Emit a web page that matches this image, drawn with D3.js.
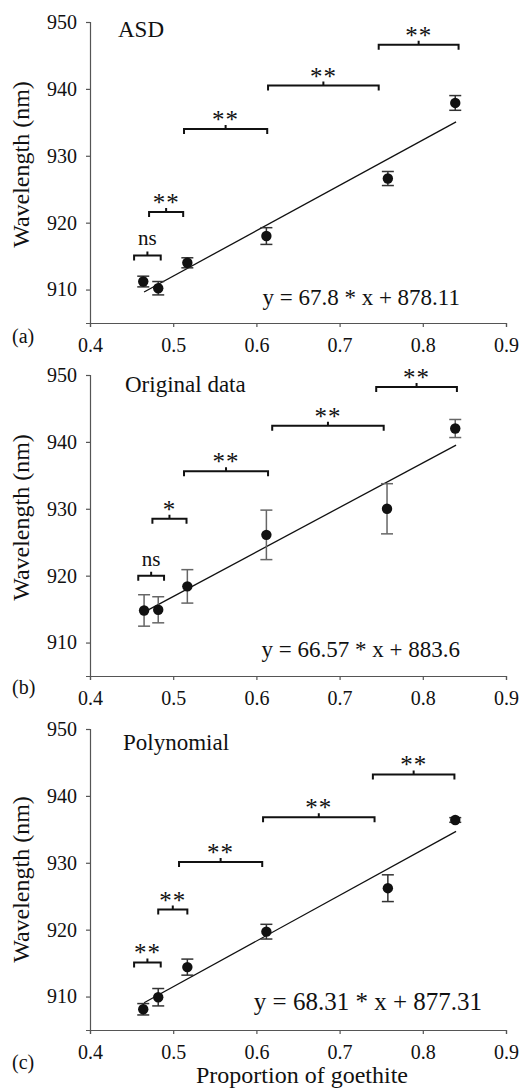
<!DOCTYPE html>
<html>
<head>
<meta charset="utf-8">
<script src="https://cdn.jsdelivr.net/npm/d3@7"></script>
<style>
  body { margin: 0; background: #fff; }
  svg text { font-family: "Liberation Serif", "Times New Roman", serif; fill: #111; }
  .axis path, .axis line { stroke: #555; stroke-width: 1.2; }
  .axis text { font-size: 20px; }
</style>
</head>
<body>
<div id="chart"></div>
<script>

// tick labels
const xTicks = [0.4, 0.5, 0.6, 0.7, 0.8, 0.9]
const yTicks = [910, 920, 930, 940, 950]

// panels
const panelLetters = ["(a)", "(b)", "(c)"]
const panelTitles = ["ASD", "Original data", "Polynomial"]
const equations = ["y = 67.8 * x + 878.11", "y = 66.57 * x + 883.6", "y = 68.31 * x + 877.31"]
const slopes = [67.8, 66.57, 68.31]
const intercepts = [878.11, 883.6, 877.31]
const fitRange = [0.465, 0.84]

// points: proportion of goethite, wavelength (nm), error
const goethite = [
    [0.464, 0.482, 0.517, 0.612, 0.758, 0.839],
    [0.465, 0.482, 0.517, 0.612, 0.757, 0.839],
    [0.464, 0.482, 0.517, 0.612, 0.758, 0.839]
]
const wavelength = [
    [911.2, 910.2, 914.0, 918.0, 926.6, 937.9],
    [914.8, 914.9, 918.4, 926.1, 930.0, 942.0],
    [908.1, 909.9, 914.4, 919.7, 926.2, 936.4]
]
const errors = [
    [0.8, 1.0, 0.75, 1.25, 1.05, 1.1],
    [2.35, 1.95, 2.5, 3.7, 3.75, 1.35],
    [0.85, 1.3, 1.2, 1.1, 2.0, 0.35]
]

// significance brackets
const bracketStart = [
    [0.453, 0.471, 0.513, 0.614, 0.747],
    [0.458, 0.475, 0.513, 0.619, 0.744],
    [0.453, 0.482, 0.507, 0.608, 0.740]
]
const bracketEnd = [
    [0.485, 0.512, 0.613, 0.747, 0.843],
    [0.489, 0.516, 0.614, 0.753, 0.841],
    [0.485, 0.517, 0.607, 0.742, 0.838]
]
const bracketLevel = [
    [915.1, 921.6, 934.0, 940.5, 946.6],
    [920.0, 928.5, 935.6, 942.4, 948.2],
    [915.1, 923.0, 930.1, 936.8, 943.2]
]
const bracketLabels = [
    ["ns", "**", "**", "**", "**"],
    ["ns", "*", "**", "**", "**"],
    ["**", "**", "**", "**", "**"]
]

// layout
const W = 525, H = 1089
const left = 90, plotW = 416, plotH = 301
const panelTops = [22, 375, 729]
const titleX = [118, 125, 123], titleDy = [15, 17, 21]
const eqX = [460, 460, 482], eqDy = [-18, -19, -20], eqSize = [23, 23, 25]
const letterDy = [20, 18, 39]
const barColors = ["#333", "#666", "#333"]

let svg = d3.select("#chart").append("svg")
    .attr("width", W)
    .attr("height", H)

let x = d3.scaleLinear().domain([0.4, 0.9]).range([0, plotW])
let y = d3.scaleLinear().domain([905, 950]).range([plotH, 0])

panelTops.forEach((top, p) => {
    let g = svg.append("g").attr("transform", `translate(${left}, ${top})`)

    // axes
    g.append("g")
        .attr("class", "axis")
        .attr("transform", `translate(0, ${plotH})`)
        .call(d3.axisBottom(x).tickValues(xTicks).tickFormat(d3.format(".1f")).tickSizeOuter(0).tickSize(4).tickPadding(11))

    g.append("g")
        .attr("class", "axis")
        .call(d3.axisLeft(y).tickValues(yTicks).tickSizeOuter(0).tickSize(4).tickPadding(9))

    // axis title
    g.append("text")
        .attr("transform", `translate(${-61}, ${plotH / 2 - (p < 2 ? 8 : 0)}) rotate(-90)`)
        .attr("text-anchor", "middle")
        .style("font-size", "24px")
        .text("Wavelength (nm)")

    // panel letter
    g.append("text")
        .attr("x", 12 - left)
        .attr("y", plotH + letterDy[p])
        .style("font-size", "20px")
        .text(panelLetters[p])

    // panel title
    g.append("text")
        .attr("x", titleX[p] - left)
        .attr("y", titleDy[p])
        .style("font-size", "23px")
        .text(panelTitles[p])

    // regression line
    g.append("line")
        .attr("x1", x(fitRange[0]))
        .attr("y1", y(slopes[p] * fitRange[0] + intercepts[p]))
        .attr("x2", x(fitRange[1]))
        .attr("y2", y(slopes[p] * fitRange[1] + intercepts[p]))
        .attr("stroke", "#111")
        .attr("stroke-width", 1.3)

    // equation
    g.append("text")
        .attr("x", eqX[p] - left)
        .attr("y", plotH + eqDy[p])
        .attr("text-anchor", "end")
        .style("font-size", eqSize[p] + "px")
        .text(equations[p])

    let pts = goethite[p].map((gx, i) => ({gx: gx, wl: wavelength[p][i], err: errors[p][i]}))

    // error bars
    let bars = g.selectAll(".err").data(pts).enter().append("g")
        .attr("class", "err")
        .attr("stroke", barColors[p])
        .attr("stroke-width", 1.5)

    bars.append("line")
        .attr("x1", d => x(d.gx)).attr("x2", d => x(d.gx))
        .attr("y1", d => y(d.wl - d.err)).attr("y2", d => y(d.wl + d.err))
    bars.append("line")
        .attr("x1", d => x(d.gx) - 6).attr("x2", d => x(d.gx) + 6)
        .attr("y1", d => y(d.wl + d.err)).attr("y2", d => y(d.wl + d.err))
    bars.append("line")
        .attr("x1", d => x(d.gx) - 6).attr("x2", d => x(d.gx) + 6)
        .attr("y1", d => y(d.wl - d.err)).attr("y2", d => y(d.wl - d.err))

    // dots
    g.selectAll(".dot").data(pts).enter().append("circle")
        .attr("class", "dot")
        .attr("cx", d => x(d.gx))
        .attr("cy", d => y(d.wl))
        .attr("r", 5.2)
        .attr("fill", "#111")

    // brackets
    let br = bracketStart[p].map((s, i) => ({s: s, e: bracketEnd[p][i], lv: bracketLevel[p][i], lab: bracketLabels[p][i]}))

    g.selectAll(".bracket").data(br).enter().append("path")
        .attr("class", "bracket")
        .attr("fill", "none")
        .attr("stroke", "#111")
        .attr("stroke-width", 2)
        .attr("d", d => {
            let x0 = x(d.s), x1 = x(d.e), yy = y(d.lv), xm = (x0 + x1) / 2
            return `M${x0},${yy + 5} L${x0},${yy} L${x1},${yy} L${x1},${yy + 5} M${xm},${yy} L${xm},${yy - 4}`
        })

    g.selectAll(".sig").data(br).enter().append("text")
        .attr("class", "sig")
        .attr("x", d => (x(d.s) + x(d.e)) / 2)
        .attr("y", d => y(d.lv) + (d.lab == "ns" ? -10 : -1))
        .attr("text-anchor", "middle")
        .style("font-size", d => d.lab == "ns" ? "21px" : "25px")
        .style("letter-spacing", d => d.lab == "ns" ? "0px" : "1px")
        .text(d => d.lab)
})

// x axis title
svg.append("text")
    .attr("x", left + plotW / 2 + 4)
    .attr("y", 1083)
    .attr("text-anchor", "middle")
    .style("font-size", "24px")
    .text("Proportion of goethite")

</script>
</body>
</html>
